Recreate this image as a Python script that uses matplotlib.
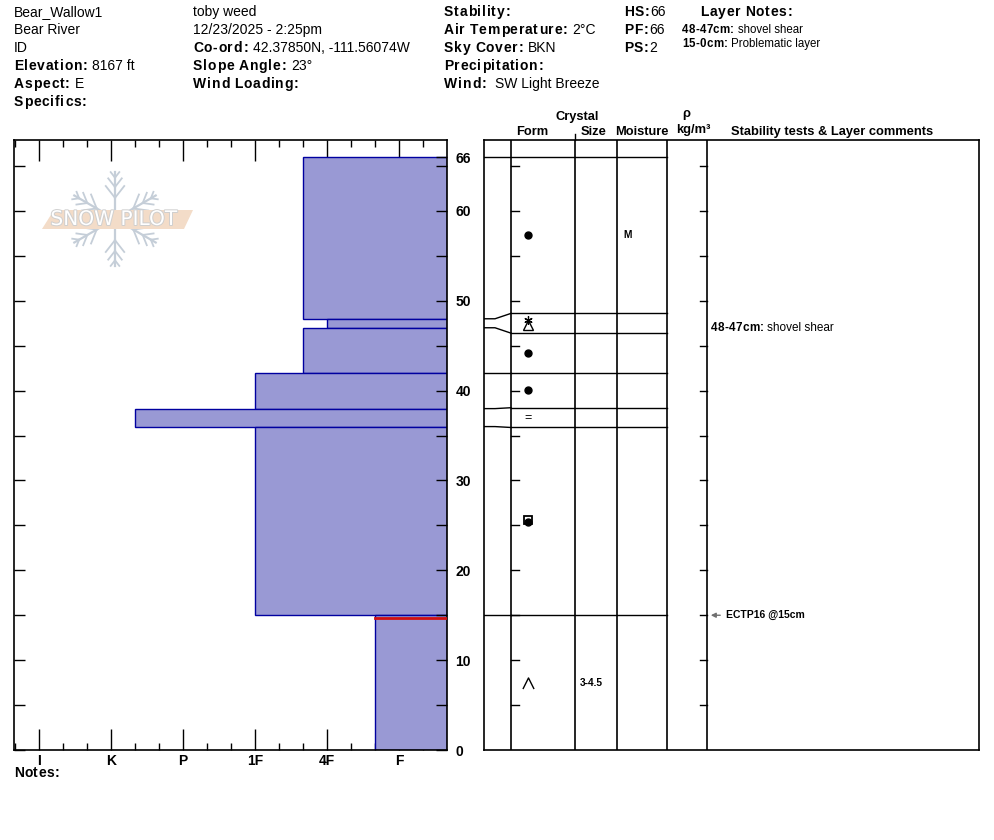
import numpy as np
import matplotlib
matplotlib.use("Agg")
import matplotlib.pyplot as plt
from matplotlib.path import Path
from matplotlib.patches import Polygon
import matplotlib.patheffects as pe

plt.rcParams['font.family'] = ['Liberation Sans', 'DejaVu Sans']

# ---- data ----
layer_tops = [66, 48, 47, 42, 38, 36, 15]
layer_bottoms = [48, 47, 42, 38, 36, 15, 0]
layer_hardness = ['4F+', '4F', '4F+', '1F', 'K-', '1F', 'F+']
layer_form = ['PP', 'DFPP', 'PP', 'PP', 'MF', 'FCxr', 'DH']
layer_size = ['', '', '', '', '', '', '3-4.5']
layer_moisture = ['M', '', '', '', '', '', '']
hardness_labels = ['I', 'K', 'P', '1F', '4F', 'F']
hardness_base = {'F': 1, '4F': 2, '1F': 3, 'P': 4, 'K': 5, 'I': 6}
snow_height = 66
depth_labels = [0, 10, 20, 30, 40, 50, 60, 66]

header_left = [[('Bear_Wallow1', 'normal')], [('Bear River', 'normal')], [('ID', 'normal')],
               [('Elevation: ', 'bold'), ('8167 ft', 'normal')],
               [('Aspect: ', 'bold'), ('E', 'normal')],
               [('Specifics:', 'bold')]]
header_mid = [[('toby weed', 'normal')], [('12/23/2025 - 2:25pm', 'normal')],
              [('Co-ord: ', 'bold'), ('42.37850N, -111.56074W', 'normal')],
              [('Slope Angle: ', 'bold'), ('23°', 'normal')],
              [('Wind Loading:', 'bold')]]
header_right = [[('Stability:', 'bold')],
                [('Air Temperature: ', 'bold'), ('2°C', 'normal')],
                [('Sky Cover: ', 'bold'), ('BKN', 'normal')],
                [('Precipitation:', 'bold')],
                [('Wind:  ', 'bold'), ('SW Light Breeze', 'normal')]]
header_hs = [[('HS:', 'bold'), ('66', 'normal')],
             [('PF:', 'bold'), ('66', 'normal')],
             [('PS:', 'bold'), ('2', 'normal')]]
layer_notes = [[('48-47cm: ', 'bold'), ('shovel shear', 'normal')],
               [('15-0cm: ', 'bold'), ('Problematic layer', 'normal')]]
test_depth = 15
test_label = 'ECTP16 @15cm'
comment_depth = 47
comment = [('48-47cm: ', 'bold'), ('shovel shear', 'normal')]


def hard_value(code):
    v = hardness_base[code.rstrip('+-')]
    if code.endswith('+'):
        v += 1 / 3
    elif code.endswith('-'):
        v -= 1 / 3
    return v


W, H = 994, 840
fig = plt.figure(figsize=(W / 100, H / 100), dpi=100)
bg = fig.add_axes([0, 0, 1, 1])
bg.set_xlim(0, W)
bg.set_ylim(H, 0)
bg.axis('off')
renderer = fig.canvas.get_renderer()


def text_width(t):
    return t.get_window_extent(renderer).width


def rich(ax, x, y, parts, size, spacing=0.8):
    # bold labels in the original are drawn a little wider, so space their letters
    for txt, wt in parts:
        if wt == 'bold':
            for ch in txt:
                t = ax.text(x, y, ch, fontsize=size, fontweight=wt, va='center', ha='left')
                x += text_width(t) + spacing if ch.strip() else size * 0.4
        else:
            t = ax.text(x, y, txt, fontsize=size, fontweight=wt, va='center', ha='left')
            x += text_width(t)


for col_x, rows in [(14, header_left), (193, header_mid), (444, header_right), (624, header_hs)]:
    for i, parts in enumerate(rows):
        rich(bg, col_x, 12 + 18 * i, parts, 10)
rich(bg, 700, 12, [('Layer Notes:', 'bold')], 10)
for i, parts in enumerate(layer_notes):
    rich(bg, 682, 30 + 14 * i, parts, 8.3, spacing=0.3)

# column headers
hdr = dict(fontsize=9.3, fontweight='bold', ha='center', va='center')
bg.text(577, 117, 'Crystal', **hdr)
bg.text(532, 132, 'Form', **hdr)
bg.text(594, 132, 'Size', **hdr)
bg.text(642, 132, 'Moisture', **hdr)
bg.text(686, 114, 'ρ', **hdr)
bg.text(693, 130, 'kg/m³', **hdr)
bg.text(832, 132, 'Stability tests & Layer comments', **hdr)
bg.plot([575, 575], [134, 140], color='k', lw=1)
rich(bg, 14, 773, [('Notes:', 'bold')], 10, spacing=0.5)

# snowpilot watermark
cx, cy, arm = 115, 219, 47
flake = '#c5ced8'
for ang in np.deg2rad([90, 30, 150, 210, 270, 330]):
    dx, dy = np.cos(ang), -np.sin(ang)
    bg.plot([cx, cx + arm * dx], [cy, cy + arm * dy], color=flake, lw=1.6, zorder=1)
    for f, ln in [(0.45, 15), (0.68, 11), (0.88, 7)]:
        px, py = cx + f * arm * dx, cy + f * arm * dy
        for s in (1, -1):
            a2 = ang + s * np.deg2rad(38)
            bg.plot([px, px + ln * np.cos(a2)], [py, py - ln * np.sin(a2)],
                    color=flake, lw=1.3, zorder=1)
bg.add_patch(Polygon([[42, 229], [54, 210], [193, 210], [184, 229]], closed=True,
                     facecolor='#f3dcc8', edgecolor='none', zorder=2))
bg.text(114, 219.5, 'SNOW PILOT', fontsize=14.5, color='white', ha='center', va='center',
        zorder=3, fontfamily='DejaVu Sans',
        path_effects=[pe.withStroke(linewidth=1.4, foreground='#cfcfcf')])

# ---- hardness profile ----
ymax = 67.9
x_left, x_right = 6.342, 0.333
ax = fig.add_axes([14 / W, 90 / H, 433 / W, 610 / H])
ax.patch.set_alpha(0)
ax.set_xlim(x_left, x_right)
ax.set_ylim(0, ymax)
hv = [hard_value(h) for h in layer_hardness]
thick = [t - b for t, b in zip(layer_tops, layer_bottoms)]
ax.barh(layer_bottoms, [h - x_right for h in hv], left=x_right, height=thick, align='edge',
        color='#9999d4', edgecolor='#0000a0', linewidth=1, zorder=2)
ax.plot([hard_value('F+'), x_right], [test_depth - 0.3] * 2, color='#d01010', lw=2, zorder=3)

ax.set_xticks(range(6, 0, -1))
ax.set_xticklabels(hardness_labels, fontsize=10, fontweight='bold')
ax.set_xticks([v + s for v in range(1, 7) for s in (-1 / 3, 1 / 3) if x_right < v + s < x_left],
              minor=True)
ax.tick_params(axis='x', which='major', direction='in', length=15, width=1, top=True, pad=3)
ax.tick_params(axis='x', which='minor', direction='in', length=5, width=1, top=True)
ax.set_yticks(range(0, 66, 5))
ax.tick_params(axis='y', direction='in', length=8, width=1, labelleft=False)
for s in ax.spines.values():
    s.set_linewidth(1.2)

axr = ax.twinx()
axr.set_ylim(0, ymax)
axr.set_yticks(list(range(0, 66, 5)) + [snow_height])
axr.set_yticklabels([str(v) if v in depth_labels else '' for v in axr.get_yticks().astype(int)],
                    fontsize=10, fontweight='bold')
axr.tick_params(axis='y', direction='in', length=8, width=1, pad=6)
for s in axr.spines.values():
    s.set_visible(False)

# ---- layer table ----
tab = fig.add_axes([484 / W, 90 / H, 495 / W, 610 / H])
tab.patch.set_alpha(0)
tab.set_xlim(484, 979)
tab.set_ylim(0, ymax)
tab.set_xticks([])
tab.set_yticks([])
for s in tab.spines.values():
    s.set_linewidth(1.2)

# spread close boundaries so every row is readable
bounds = sorted(set(layer_tops + layer_bottoms), reverse=True)
min_gap = 2.2
disp = list(map(float, bounds))
for i in range(len(disp) - 1):
    gap = disp[i] - disp[i + 1]
    if gap < min_gap:
        mid = (bounds[i] + bounds[i + 1]) / 2
        disp[i], disp[i + 1] = mid + min_gap / 2, mid - min_gap / 2
dmap = dict(zip(bounds, disp))

for c in [511, 575, 617, 667, 707]:
    tab.plot([c, c], [0, ymax], color='k', lw=1.2)
for b in bounds[:-1]:
    d = dmap[b]
    x0 = 484 if b == snow_height else 511
    tab.plot([x0, 667], [d, d], color='k', lw=1)
    if b != snow_height:
        tab.plot([484, 495, 511], [b, b, d], color='k', lw=1)
for v in range(5, 66, 5):
    tab.plot([511, 519], [v, v], color='k', lw=1)
    tab.plot([700, 707], [v, v], color='k', lw=1)

caret = Path([(-1, -1), (0, 1), (1, -1)], [Path.MOVETO, Path.LINETO, Path.LINETO])
for top, bot, form, size, moist in zip(layer_tops, layer_bottoms, layer_form,
                                       layer_size, layer_moisture):
    yc = (dmap[top] + dmap[bot]) / 2
    fx = 528
    if form == 'PP':
        tab.plot(fx, yc, 'o', color='k', ms=5)
    elif form == 'DFPP':
        tab.plot(fx, yc - 0.2, '^', mfc='none', mec='k', ms=7, mew=1)
        tab.plot(fx, yc + 0.4, marker=(6, 2, 0), color='k', ms=6, mew=0.9)
    elif form == 'MF':
        tab.text(fx, yc, '=', fontsize=9, ha='center', va='center')
    elif form == 'FCxr':
        tab.plot(fx, yc + 0.1, 's', mfc='none', mec='k', ms=6, mew=1.3)
        tab.plot(fx, yc - 0.1, 'o', color='k', ms=5)
    elif form == 'DH':
        tab.plot(fx, yc, marker=caret, mfc='none', mec='k', ms=8, mew=1)
    if size:
        tab.text(580, yc, size, fontsize=7.3, fontweight='bold', va='center')
    if moist:
        tab.text(623, yc, moist, fontsize=7.3, fontweight='bold', va='center')

rich(tab, 711, comment_depth, comment, 8.5, spacing=0.2)
tab.annotate('', xy=(708, test_depth), xytext=(723, test_depth),
             arrowprops=dict(arrowstyle='-|>', color='#707070', lw=1, mutation_scale=7))
tab.text(726, test_depth, test_label, fontsize=7.5, fontweight='bold', va='center')

fig.savefig('out.png', dpi=100)
